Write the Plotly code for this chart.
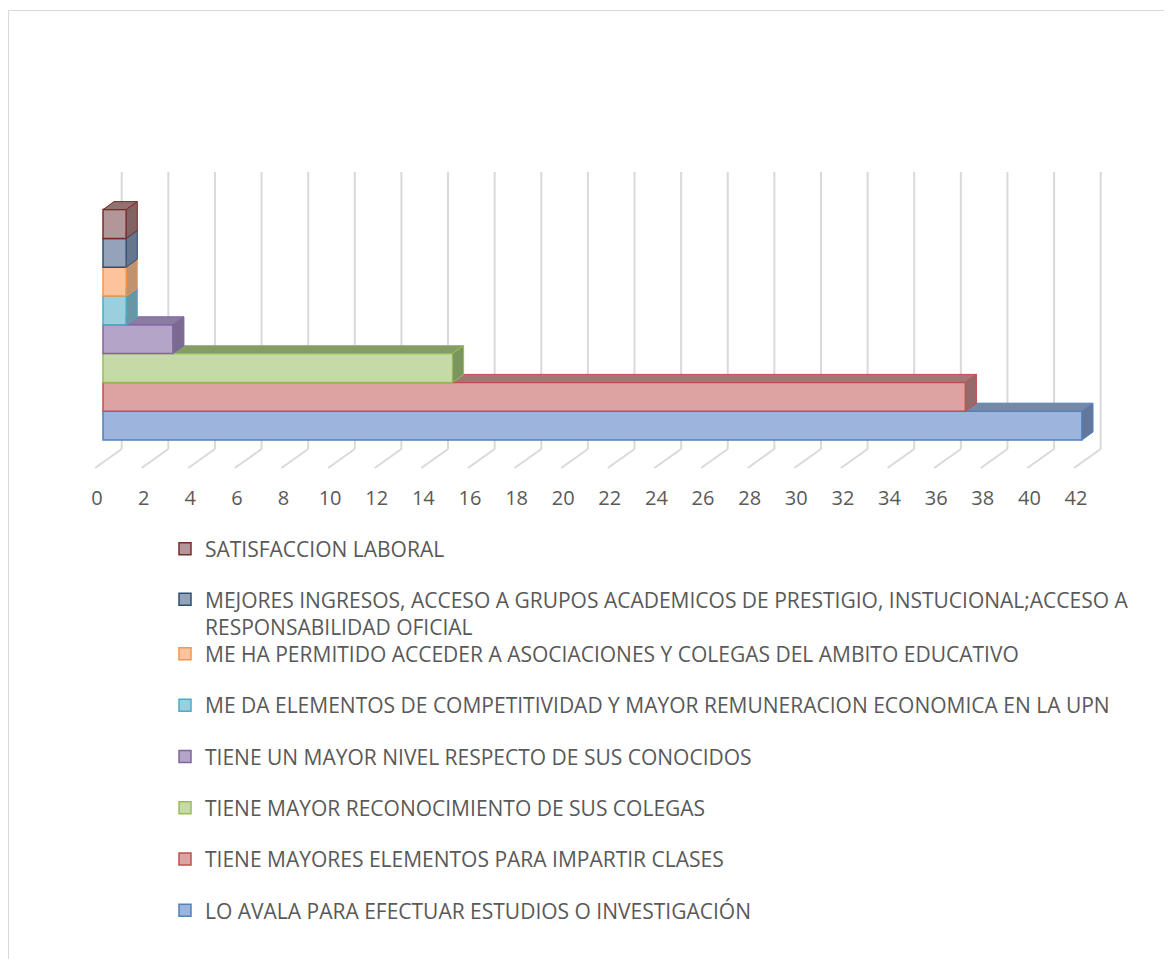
import plotly.graph_objects as go

# ---------------- data ----------------
categories = [
    "LO AVALA PARA EFECTUAR ESTUDIOS O INVESTIGACIÓN",
    "TIENE MAYORES ELEMENTOS PARA IMPARTIR CLASES",
    "TIENE MAYOR RECONOCIMIENTO DE SUS COLEGAS",
    "TIENE UN MAYOR NIVEL RESPECTO DE SUS CONOCIDOS",
    "ME DA ELEMENTOS DE COMPETITIVIDAD Y MAYOR REMUNERACION ECONOMICA EN LA UPN",
    "ME HA PERMITIDO ACCEDER A ASOCIACIONES Y COLEGAS DEL AMBITO EDUCATIVO",
    "MEJORES INGRESOS, ACCESO A GRUPOS ACADEMICOS DE PRESTIGIO, INSTUCIONAL;ACCESO A<br>RESPONSABILIDAD OFICIAL",
    "SATISFACCION LABORAL",
]
values = [42, 37, 15, 3, 1, 1, 1, 1]
tick_values = list(range(0, 43, 2))

# ---------------- styles ----------------
edge_colors = ["#4F81BD", "#C0504D", "#9BBB59", "#8064A2", "#4BACC6", "#F79646", "#2C4D75", "#772C2A"]
front_colors = ["#9DB5DD", "#DDA3A2", "#C6DAA7", "#B3A4C8", "#9BCFDD", "#FCC39C", "#95A3B8", "#B39697"]
top_colors = ["#7688A6", "#A47776", "#849C6A", "#8A7CA0", "#76A6B3", "#CFA383", "#75849A", "#917172"]
side_colors = ["#62779A", "#96696A", "#7B955F", "#7B6B91", "#6797A5", "#C0926F", "#66768D", "#826263"]

OFF = 8.0                # page margin of the html body
W, H = 1164, 951         # figure size
K = 979 / 42.0           # px per unit
P = 28.8                 # px per bar slot
BAR_X0, GRID_X0, LABEL_X0, FLOOR_X0 = 103.0 - OFF, 121.7 - OFF, 97.0 - OFF, 95.0 - OFF
BAR_BOTTOM = 440.0 - OFF
GRID_TOP, GRID_BOTTOM, FLOOR_FRONT = 172.0 - OFF, 449.0 - OFF, 468.0 - OFF
DDX, DDY = 11.0 / K, 8.0 / P

TEXT = "#595959"
FONT = "Open Sans"


def xr(x0):
    return [-x0 / K, (W - x0) / K]


def clip_x(poly, c):
    """Keep the part of polygon with x >= c."""
    out = []
    n = len(poly)
    for j in range(n):
        a, b = poly[j], poly[(j + 1) % n]
        ina, inb = a[0] >= c, b[0] >= c
        if ina:
            out.append(a)
        if ina != inb:
            t = (c - a[0]) / (b[0] - a[0])
            out.append((c, a[1] + t * (b[1] - a[1])))
    return out


fig = go.Figure()
legend_of = ["legend3"] * 6 + ["legend2", "legend"]
n = len(values)

for i, (name, v) in enumerate(zip(categories, values)):
    fig.add_trace(go.Bar(
        x=[v], y=[i], base=0, width=1, orientation="h", name=name,
        marker=dict(color=front_colors[i], line=dict(color=edge_colors[i], width=1.5)),
        legend=legend_of[i], legendgroup=f"g{i}", legendrank=n - i, hoverinfo="x+name",
    ))
    top_b = i + 0.5
    top = [(0, top_b), (v, top_b), (v + DDX, top_b + DDY), (DDX, top_b + DDY)]
    if i + 1 < n:
        top = clip_x(top, values[i + 1])
    if top:
        fig.add_trace(go.Scatter(
            x=[p[0] for p in top] + [top[0][0]], y=[p[1] for p in top] + [top[0][1]],
            fill="toself", fillcolor=top_colors[i], mode="lines",
            line=dict(color=edge_colors[i], width=1), showlegend=False, hoverinfo="skip",
        ))
    side = [(v, i - 0.5), (v, top_b), (v + DDX, top_b + DDY), (v + DDX, i - 0.5 + DDY)]
    fig.add_trace(go.Scatter(
        x=[p[0] for p in side] + [side[0][0]], y=[p[1] for p in side] + [side[0][1]],
        fill="toself", fillcolor=side_colors[i], mode="lines",
        line=dict(color=edge_colors[i], width=1), showlegend=False, hoverinfo="skip",
    ))

ydom = [1 - GRID_BOTTOM / H, 1 - GRID_TOP / H]
yrng = [(BAR_BOTTOM - GRID_BOTTOM) / P - 0.5, (BAR_BOTTOM - GRID_TOP) / P - 0.5]

shapes = []
back_shift = (GRID_X0 - LABEL_X0) / K
front_shift = (FLOOR_X0 - LABEL_X0) / K
for t in tick_values:
    # back-wall gridline
    shapes.append(dict(
        type="line", xref="x3", yref="paper", layer="below",
        x0=t + back_shift, y0=1 - GRID_TOP / H, x1=t + back_shift, y1=1 - GRID_BOTTOM / H,
        line=dict(color="#D9D9D9", width=2),
    ))
    # floor gridline
    shapes.append(dict(
        type="line", xref="x3", yref="paper", layer="below",
        x0=t + back_shift, y0=1 - GRID_BOTTOM / H,
        x1=t + front_shift, y1=1 - FLOOR_FRONT / H,
        line=dict(color="#D9D9D9", width=2),
    ))
shapes.append(dict(type="rect", xref="paper", yref="paper",
                   x0=0.5 / W, y0=1 - 2.5 / H, x1=1.02, y1=-0.02,
                   line=dict(color="#D9D9D9", width=1)))

leg_common = dict(font=dict(family=FONT, size=21, color=TEXT), bgcolor="rgba(0,0,0,0)",
                  xanchor="left", x=(165 - OFF) / W, itemclick=False, itemdoubleclick=False)

fig.update_layout(
    width=W, height=H, margin=dict(l=0, r=0, t=0, b=0),
    paper_bgcolor="white", plot_bgcolor="rgba(0,0,0,0)",
    barmode="overlay", showlegend=True,
    font=dict(family=FONT, color=TEXT),
    xaxis=dict(domain=[0, 1], range=xr(BAR_X0), showgrid=False, zeroline=False,
               showticklabels=False, showline=False, fixedrange=True),
    xaxis3=dict(overlaying="x", anchor="y", side="bottom", range=xr(LABEL_X0), tickmode="array",
                tickvals=tick_values, ticktext=[str(t) for t in tick_values],
                showgrid=False, zeroline=False, showline=False, ticks="",
                ticklabelstandoff=35, tickfont=dict(family=FONT, size=20, color=TEXT),
                fixedrange=True),
    yaxis=dict(domain=ydom, range=yrng, showgrid=False, zeroline=False,
               showticklabels=False, showline=False, fixedrange=True),
    legend=dict(**leg_common, y=1 - (549 - OFF) / H, yanchor="middle"),
    legend2=dict(**leg_common, y=1 - (579.2 - OFF) / H, yanchor="top", valign="top"),
    legend3=dict(**leg_common, y=1 - (633.7 - OFF) / H, yanchor="top",
                 traceorder="grouped", tracegroupgap=21),
    shapes=shapes,
)

fig.write_html("out.html")
